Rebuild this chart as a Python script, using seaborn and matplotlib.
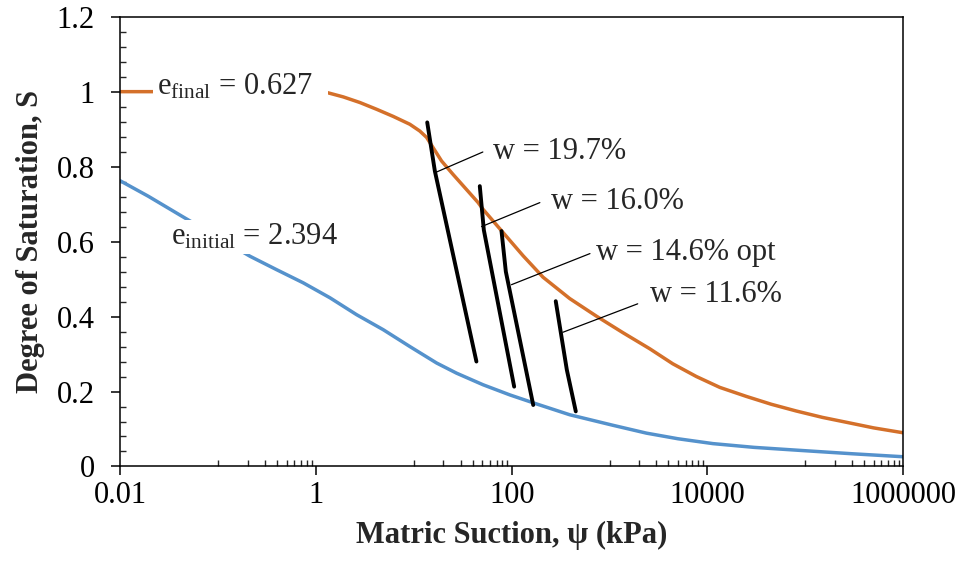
import matplotlib
matplotlib.use('Agg')
import matplotlib.pyplot as plt
import matplotlib.ticker as mticker
from matplotlib.patches import Rectangle
import pandas as pd
import seaborn as sns

# SWCC curves (suction in kPa, degree of saturation)
final_suction = [0.01, 0.1, 0.5, 1.28, 1.90, 2.81, 4.16, 6.15, 9.10, 11.5, 13.5, 15.7,
                 19.2, 25.2, 34.5, 45.4, 51.0, 81.7, 131, 209, 392, 735, 1370, 2580, 4430,
                 7720, 13400, 25000, 45000, 81100, 150000, 263000, 500000, 1000000]
final_sat = [1.0, 1.0, 1.0, 0.998, 0.986, 0.971, 0.953, 0.934, 0.913, 0.895, 0.878, 0.851,
             0.815, 0.779, 0.739, 0.704, 0.686, 0.624, 0.562, 0.505, 0.448, 0.401, 0.357, 0.314, 0.274,
             0.240, 0.211, 0.187, 0.166, 0.148, 0.131, 0.118, 0.103, 0.090]

initial_suction = [0.01, 0.0193, 0.0424, 0.211, 0.396, 0.740, 1.39, 2.60, 4.86, 9.10, 17.1,
                   27.3, 51.0, 95.7, 179, 392, 1080, 2380, 5000, 11400, 30000, 87700, 300000, 1000000]
initial_sat = [0.762, 0.721, 0.668, 0.561, 0.525, 0.490, 0.450, 0.405, 0.365, 0.320, 0.276,
               0.249, 0.218, 0.191, 0.167, 0.138, 0.110, 0.089, 0.074, 0.061, 0.051, 0.043, 0.034, 0.026]

# measured paths for each water content
w_labels = ['w = 19.7%', 'w = 16.0%', 'w = 14.6% opt', 'w = 11.6%']
w_suction = [[13.7, 16.4, 43.6], [47.2, 51.9, 106], [78.7, 87.1, 166], [282, 366, 452]]
w_sat = [[0.918, 0.788, 0.280], [0.748, 0.631, 0.213], [0.628, 0.520, 0.164], [0.441, 0.258, 0.147]]

# leader lines: point on path -> label position
leader_from = [(17.2, 0.786), (49.2, 0.640), (99.5, 0.485), (333, 0.358)]
leader_to = [(50.7, 0.839), (194, 0.704), (631, 0.568), (1940, 0.434)]
label_pos = [(64.1, 0.821), (255, 0.686), (735, 0.552), (2580, 0.438)]

x_ticks = [0.01, 1, 100, 10000, 1000000]
x_tick_labels = ['0.01', '1', '100', '10000', '1000000']
y_ticks = [0, 0.2, 0.4, 0.6, 0.8, 1.0, 1.2]
y_tick_labels = ['0', '0.2', '0.4', '0.6', '0.8', '1', '1.2']

sns.set_style('ticks')
plt.rcParams['font.family'] = ['Liberation Serif', 'DejaVu Serif']
plt.rcParams['mathtext.fontset'] = 'custom'
plt.rcParams['mathtext.rm'] = 'Liberation Serif'
plt.rcParams['mathtext.it'] = 'Liberation Serif:italic'
plt.rcParams['axes.edgecolor'] = 'black'

FS = 22

fig = plt.figure(figsize=(9.65, 5.64), dpi=100)
ax = fig.add_axes([0.1247, 0.1729, 0.8111, 0.7975])

df_final = pd.DataFrame({'psi': final_suction, 'S': final_sat})
df_init = pd.DataFrame({'psi': initial_suction, 'S': initial_sat})
sns.lineplot(data=df_final, x='psi', y='S', sort=False, estimator=None, ax=ax,
             color='#D4702A', linewidth=2.5)
sns.lineplot(data=df_init, x='psi', y='S', sort=False, estimator=None, ax=ax,
             color='#5592CC', linewidth=2.5)

for xs, ys in zip(w_suction, w_sat):
    sns.lineplot(x=xs, y=ys, sort=False, estimator=None, ax=ax, color='black', linewidth=2.8)

for (x0, y0), (x1, y1), (tx, ty), lab in zip(leader_from, leader_to, label_pos, w_labels):
    ax.plot([x0, x1], [y0, y1], color='black', linewidth=0.9)
    ax.text(tx, ty, lab, fontsize=FS, ha='left', va='baseline')

# white boxes hide the curves behind the void-ratio labels, like the original
ax.text(0.0237, 0.993, r'e$_{\mathrm{final}}$ = 0.627', fontsize=FS, ha='left', va='baseline',
        zorder=5, bbox=dict(boxstyle='square,pad=0.12', fc='white', ec='none'))
ax.add_patch(Rectangle((0.235, 0.815), 0.03, 0.05, transform=ax.transAxes,
                       facecolor='white', edgecolor='none', zorder=4))
ax.text(0.033, 0.592, r'e$_{\mathrm{initial}}$ = 2.394', fontsize=FS, ha='left', va='baseline',
        zorder=5, bbox=dict(boxstyle='square,pad=0.08', fc='white', ec='none'))

ax.set_xscale('log')
ax.set_xlim(0.01, 1000000)
ax.set_ylim(0, 1.2)
ax.xaxis.set_major_locator(mticker.FixedLocator(x_ticks))
ax.xaxis.set_minor_locator(mticker.LogLocator(base=100, subs=[10, 20, 30, 40, 50, 60, 70, 80, 90], numticks=20))
ax.set_xticklabels(x_tick_labels)
ax.xaxis.set_minor_formatter(mticker.NullFormatter())
ax.set_yticks(y_ticks)
ax.set_yticklabels(y_tick_labels)
ax.yaxis.set_minor_locator(mticker.MultipleLocator(0.04))

for s in ax.spines.values():
    s.set_visible(True)
    s.set_linewidth(1.1)
ax.tick_params(which='major', direction='out', length=6.5, width=1.1, labelsize=FS, colors='black')
ax.tick_params(which='minor', direction='in', length=4.5, width=1.0)
ax.tick_params(axis='y', which='major', pad=12)
ax.tick_params(axis='x', which='major', pad=4)

ax.set_xlabel('Matric Suction, ψ (kPa)', fontsize=FS, fontweight='bold', labelpad=8)
ax.set_ylabel('Degree of Saturation, S', fontsize=FS, fontweight='bold', labelpad=8)

fig.savefig('out.png', dpi=100)
